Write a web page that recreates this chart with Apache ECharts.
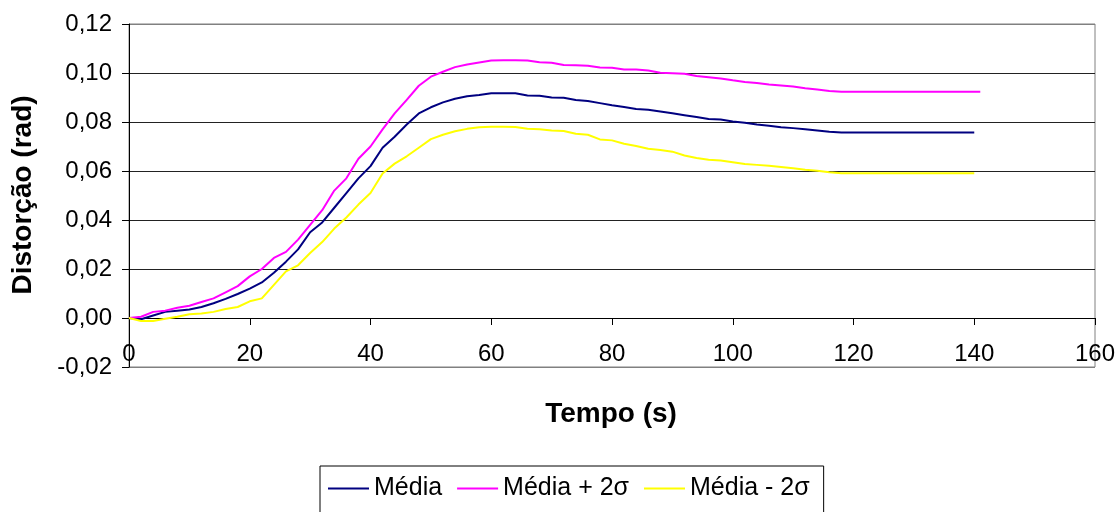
<!DOCTYPE html>
<html>
<head>
<meta charset="utf-8">
<script src="https://cdn.jsdelivr.net/npm/echarts@6/dist/echarts.min.js"></script>
<style>
html,body{margin:0;padding:0;background:#fff;}
#chart{width:1120px;height:512px;}
</style>
</head>
<body>
<div id="chart"></div>
<script>
const times = [0,2,4,6,8,10,12,14,16,18,20,22,24,26,28,30,32,34,36,38,40,42,44,46,48,50,52,54,56,58,60,62,64,66,68,70,72,74,76,78,80,82,84,86,88,90,92,94,96,98,100,102,104,106,108,110,112,114,116,118,120,122,124,126,128,130,132,134,136,138,140];

const media = [0,-0.0005,0.001,0.0025,0.003,0.0035,0.0045,0.006,0.0078,0.0098,
0.012,0.0145,0.0185,0.023,0.028,0.035,0.039,0.045,0.051,0.057,
0.062,0.0695,0.074,0.079,0.0835,0.086,0.088,0.0895,0.0905,0.091,
0.0917,0.0917,0.0917,0.0908,0.0907,0.09,0.0899,0.089,0.0886,0.0877,
0.0868,0.0861,0.0853,0.085,0.0843,0.0836,0.0828,0.082,0.0812,0.081,
0.0802,0.0797,0.079,0.0785,0.0779,0.0775,0.077,0.0765,0.076,0.0757,
0.0757,0.0757,0.0757,0.0757,0.0757,0.0757,0.0757,0.0757,0.0757,0.0757,0.0757];

const mediaMais = [0,0.0005,0.0025,0.003,0.0042,0.005,0.0065,0.008,0.0105,0.013,
0.017,0.02,0.0245,0.027,0.032,0.038,0.044,0.052,0.057,0.065,
0.07,0.077,0.0835,0.089,0.0948,0.0985,0.1005,0.1024,0.1035,0.1043,
0.1051,0.1052,0.1052,0.1051,0.1044,0.1042,0.1033,0.1032,0.103,0.1022,
0.1021,0.1014,0.1014,0.101,0.1001,0.0999,0.0997,0.0988,0.0983,0.0978,
0.097,0.0963,0.0959,0.0953,0.0949,0.0945,0.0938,0.0933,0.0927,0.0923,
0.0923,0.0923,0.0923,0.0923,0.0923,0.0923,0.0923,0.0923,0.0923,0.0923,0.0923];
const mediaMaisEnd = [141, 0.0923];

const mediaMenos = [0,-0.0012,-0.0012,-0.0003,0.0005,0.0015,0.0018,0.0025,0.0037,0.0045,
0.0068,0.008,0.0135,0.019,0.0215,0.0265,0.031,0.0365,0.041,0.0463,
0.051,0.059,0.063,0.066,0.0695,0.073,0.0748,0.0762,0.0772,0.0779,
0.0781,0.0781,0.078,0.0772,0.077,0.0765,0.0763,0.0752,0.0748,0.0729,
0.0725,0.0711,0.0702,0.0691,0.0686,0.0679,0.0663,0.0653,0.0646,0.0643,
0.0636,0.0629,0.0625,0.0621,0.0616,0.0611,0.0605,0.0601,0.0595,0.0591,
0.0591,0.0591,0.0591,0.0591,0.0591,0.0591,0.0591,0.0591,0.0591,0.0591,0.0591];

const seriesNames = ['Média', 'Média + 2σ', 'Média - 2σ'];
const seriesColors = ['#000080', '#FF00FF', '#FFFF00'];

function pairs(vals) { return times.map((t, i) => [t, vals[i]]); }

const FONT = '"Liberation Sans", Arial, sans-serif';
const chart = echarts.init(document.getElementById('chart'), null, {renderer: 'canvas'});
chart.setOption({
  animation: false,
  backgroundColor: '#fff',
  grid: {left: 129, right: 25, top: 24, bottom: 145, show: true, borderColor: '#808080', borderWidth: 1, backgroundColor: 'transparent'},
  xAxis: {
    type: 'value', min: 0, max: 160, interval: 20,
    position: 'bottom', offset: -49,
    axisLine: {onZero: false, lineStyle: {color: '#000', width: 1}},
    axisTick: {show: true, length: 7, lineStyle: {color: '#000'}},
    axisLabel: {margin: 24, fontSize: 24, fontFamily: FONT, color: '#000'},
    splitLine: {show: false}
  },
  yAxis: {
    type: 'value', min: -0.02, max: 0.12, interval: 0.02,
    axisLine: {show: true, onZero: false, lineStyle: {color: '#000', width: 1}},
    axisTick: {show: true, length: 7, lineStyle: {color: '#000'}},
    axisLabel: {margin: 17, fontSize: 24, fontFamily: FONT, color: '#000',
      formatter: v => v.toFixed(2).replace('.', ',')},
    splitLine: {show: true, lineStyle: {color: ['#808080','#222','#222','#222','#222','#222','#222','#808080'], width: 1}}
  },
  legend: {
    left: 320, top: 466,
    orient: 'horizontal',
    data: seriesNames,
    icon: 'rect',
    itemWidth: 41, itemHeight: 2, itemGap: 15,
    padding: [10, 14, 24, 8],
    borderColor: '#000', borderWidth: 1,
    textStyle: {fontSize: 25, fontFamily: FONT, color: '#000'}
  },
  graphic: [
    {type: 'text', x: 23, y: 195, rotation: Math.PI / 2,
      style: {text: 'Distorção (rad)', font: 'bold 28px ' + FONT, fill: '#000', textAlign: 'center', textVerticalAlign: 'middle'}},
    {type: 'text', x: 611, y: 414,
      style: {text: 'Tempo (s)', font: 'bold 28px ' + FONT, fill: '#000', textAlign: 'center', textVerticalAlign: 'middle'}}
  ],
  series: [
    {name: seriesNames[0], type: 'line', data: pairs(media), symbol: 'none', showSymbol: false,
      lineStyle: {color: seriesColors[0], width: 2}, itemStyle: {color: seriesColors[0]}},
    {name: seriesNames[1], type: 'line', data: pairs(mediaMais).concat([mediaMaisEnd]), symbol: 'none', showSymbol: false,
      lineStyle: {color: seriesColors[1], width: 2}, itemStyle: {color: seriesColors[1]}},
    {name: seriesNames[2], type: 'line', data: pairs(mediaMenos), symbol: 'none', showSymbol: false,
      lineStyle: {color: seriesColors[2], width: 2}, itemStyle: {color: seriesColors[2]}}
  ]
});
</script>
</body>
</html>
